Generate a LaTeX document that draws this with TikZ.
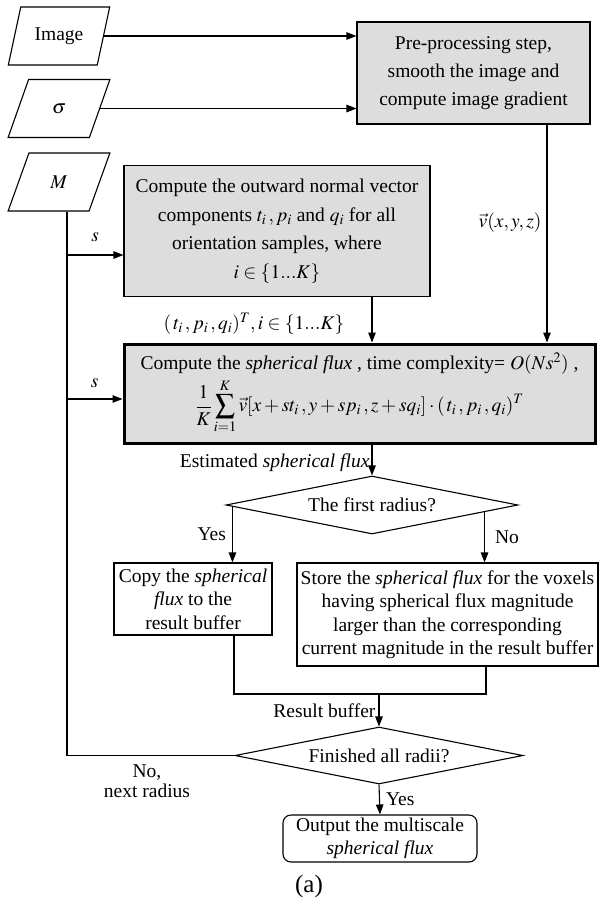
\documentclass[tikz,border=0pt]{standalone}
\usepackage{mathptmx}
\usepackage[no-math]{fontspec}
\setmainfont{Liberation Serif}
\usetikzlibrary{shapes.geometric,arrows.meta,calc}
\definecolor{boxgray}{RGB}{221,221,221}

\tikzset{
  every node/.style={font=\fontsize{19.5}{23.5}\selectfont},
  box/.style={draw, fill=boxgray, line width=1.1pt, align=center, inner sep=0pt},
  plain/.style={draw, line width=1.1pt, align=center, inner sep=0pt},
  io/.style={trapezium, trapezium left angle=65, trapezium right angle=115,
    trapezium stretches=true, draw, line width=1.1pt,
    minimum width=102pt, minimum height=58pt, inner sep=0pt},
  decision/.style={diamond, draw, line width=1.1pt, inner sep=0pt, aspect=5},
  link/.style={line width=1.1pt},
  arr/.style={link, -{Triangle[length=10pt,width=7.5pt]}},
  lbl/.style={inner sep=0pt}
}

\begin{document}
\begin{tikzpicture}[x=1pt,y=-1pt]
\useasboundingbox (0,0) rectangle (599,903);

% inputs
\node[io] (img) at (59,36) {Image};
\node[io] (sig) at (59,108.5) {$\sigma$};
\node[io] (M)   at (59,182) {$M$};

% processing boxes
\node[box, minimum width=233pt, minimum height=102pt,
      font=\fontsize{19.5}{28}\selectfont] (pre) at (473.5,73)
  {Pre-processing step,\\ smooth the image and\\ compute image gradient};
\node[box, minimum width=306pt, minimum height=131pt,
      font=\fontsize{19.5}{28.5}\selectfont] (nrm) at (277,231)
  {Compute the outward normal vector\\
   components $t_i\,,p_i$ and $q_i$ for all\\
   orientation samples, where\\
   $i\in\{1...K\}$};
\node[box, line width=3pt, minimum width=471pt, minimum height=99pt] (flux) at (359.5,393.5)
  {Compute the \textit{spherical flux} , time complexity= $O(Ns^2)$ ,\\[4pt]
   $\displaystyle\frac{1}{K}\sum_{i=1}^{K}\vec{v}[x+st_i\,,y+sp_i\,,z+sq_i]\cdot(\,t_i\,,p_i\,,q_i)^T$};

% first decision and its branches
\node[decision, minimum width=292pt, minimum height=58pt] (d1) at (372,505) {The first radius?};
\node[plain, minimum width=158pt, minimum height=72pt] (copy) at (193,599)
  {Copy the \textit{spherical}\\ \textit{flux} to the\\ result buffer};
\node[plain, minimum width=301pt, minimum height=103pt] (store) at (447.5,614.5)
  {Store the \textit{spherical flux} for the voxels\\
   having spherical flux magnitude\\
   larger than the corresponding\\
   current magnitude in the result buffer};

% second decision and output
\node[decision, minimum width=288pt, minimum height=57pt] (d2) at (379,755.5) {Finished all radii?};
\node[plain, rounded corners=8pt, minimum width=194pt, minimum height=47pt] (out) at (380,838.5)
  {Output the multiscale\\ \textit{spherical flux}};

\node[lbl, font=\fontsize{25}{30}\selectfont] (cap) at (309,886) {(a)};

% input connectors
\draw[arr] (img.east) -- (img.east -| pre.west);
\draw[arr] (sig.east) -- (sig.east -| pre.west);

% scale loop from M
\coordinate (mx) at (67,0);
\coordinate (s1) at (67,255);
\coordinate (s2) at (67,399);
\coordinate (mbot) at (67,755.5);
\draw[link] (M.south -| mx) -- (mbot) -- (d2.west);
\draw[arr] (s1) -- (s1 -| nrm.west) node[lbl, midway, above=13pt] {$s$};
\draw[arr] (s2) -- (s2 -| flux.west) node[lbl, midway, above=11pt] {$s$};

% into the flux box
\coordinate (vx) at (547,0);
\draw[arr] (pre.south -| vx) -- (flux.north -| vx)
  node[lbl, pos=0.45, left=5pt] {$\vec{v}(x,y,z)$};
\coordinate (tx) at (372,0);
\draw[arr] (nrm.south -| tx) -- (flux.north -| tx);
\node[lbl] (tlab) at (254,324) {$(\,t_i\,,p_i\,,q_i)^T,i\in\{1...K\}$};

% flux to first decision
\draw[arr] (flux.south -| tx) -- (d1.north)
  node[lbl, pos=0.6, left=2pt] {Estimated \textit{spherical flux}};

% branches of the first decision
\coordinate (yx) at ($(d1.west)+(7,1.4)$);
\draw[arr] (yx) -- (yx |- copy.north) node[lbl, midway, left=6pt] {Yes};
\coordinate (nx) at ($(d1.east)+(-34,6.8)$);
\draw[arr] (nx) -- (nx |- store.north) node[lbl, midway, right=10pt] {No};

% merge into result buffer
\coordinate (cx) at (234,0);
\coordinate (sx) at (486,0);
\coordinate (jy) at (0,694);
\draw[link] (copy.south -| cx) -- (cx |- jy) -- (sx |- jy) -- (store.south -| sx);
\coordinate (rx) at (379,694);
\draw[arr] (rx) -- (d2.north) node[lbl, midway, left=3pt] {Result buffer};

% exit
\draw[arr] (d2.south) -- (out.north) node[lbl, midway, right=6pt] {Yes};
\node[lbl, align=center, font=\fontsize{19.5}{19.5}\selectfont] (nolab) at (147,781) {No,\\ next radius};
\end{tikzpicture}
\end{document}
